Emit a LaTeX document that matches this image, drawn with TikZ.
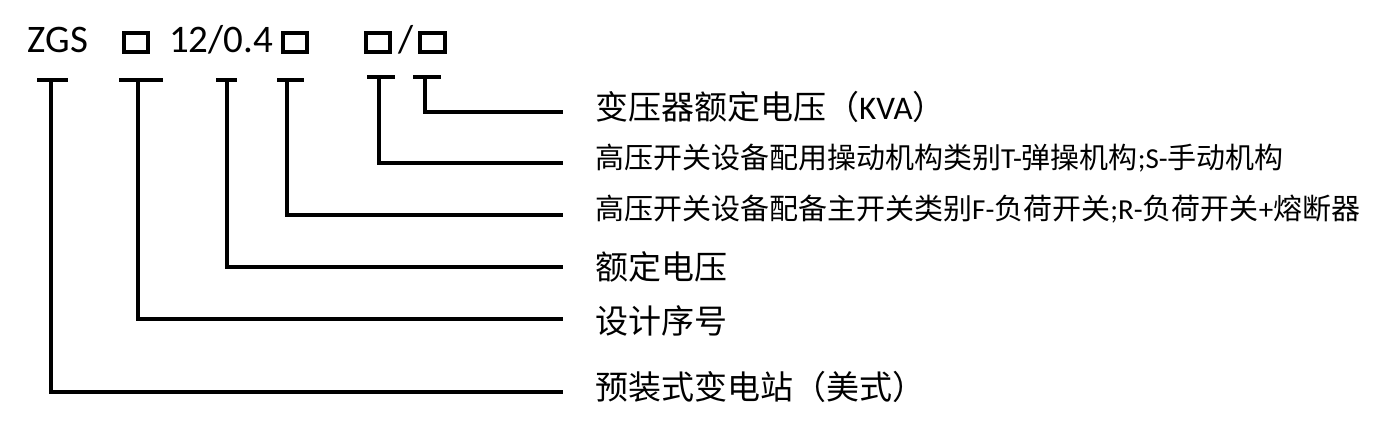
\documentclass[tikz,border=0pt]{standalone}
\usepackage{fontspec}
\setmainfont{Carlito}
\newfontfamily\cjk{Noto Sans CJK SC}
\usetikzlibrary{calc}
\tikzset{bar/.style={line width=4.5pt}}
\tikzset{slot/.style={draw,line width=3.8pt,minimum width=24.5pt,minimum height=18.5pt,inner sep=0pt}}
\tikzset{lbl/.style={anchor=west,inner sep=0pt,font=\fontsize{33}{36}\selectfont}}
\tikzset{lblsmall/.style={anchor=west,inner sep=0pt,font=\fontsize{29}{32}\selectfont}}

\begin{document}
\begin{tikzpicture}[x=1pt,y=-1pt,font=\fontsize{39}{43}\selectfont] % pixel grid, hardcoded
  \useasboundingbox (0,0) rectangle (1393,425);

  % type code on top
  \node[anchor=base] (zgs) at (58,52.5) {ZGS};
  \node[slot] (s1) at (136,42.5) {};
  \node[anchor=base] (num) at (221,52.5) {12/0.4};
  \node[slot] (s2) at (295,42.5) {};
  \node[slot] (s3) at (378,42.5) {};
  \node[anchor=base] (sl) at (406,52.5) {/};
  \node[slot] (s4) at (432.5,42.5) {};

  % ticks under the code
  \coordinate (t1) at (51,80);
  \coordinate (t2) at (138,80);
  \coordinate (t3) at (227,80);
  \coordinate (t4) at (287,80);
  \coordinate (t5) at (379,77);
  \coordinate (t6) at (425,77);

  \draw[bar] (37,80) -- (68,80);
  \draw[bar] (119,80) -- (163,80);
  \draw[bar] (216,80) -- (237,80);
  \draw[bar] (277,80) -- (304,80);
  \draw[bar] (367,77) -- (395,77);
  \draw[bar] (413,77) -- (441,77);

  % line ends
  \coordinate (e1) at (563,112);
  \coordinate (e2) at (563,163);
  \coordinate (e3) at (563,215);
  \coordinate (e4) at (563,267);
  \coordinate (e5) at (563,319);
  \coordinate (e6) at (563,392);

  \draw[bar] (t6) |- (e1);
  \draw[bar] (t5) |- (e2);
  \draw[bar] (t4) |- (e3);
  \draw[bar] (t3) |- (e4);
  \draw[bar] (t2) |- (e5);
  \draw[bar] (t1) |- (e6);

  % meanings
  \node[lbl] (l1) at (595,107) {{\cjk 变压器额定电压（}KVA{\cjk ）}};
  \node[lblsmall] (l2) at (595,158) {{\cjk 高压开关设备配用操动机构类别}T-{\cjk 弹操机构};S-{\cjk 手动机构}};
  \node[lblsmall] (l3) at (595,209) {{\cjk 高压开关设备配备主开关类别}F-{\cjk 负荷开关};R-{\cjk 负荷开关}+{\cjk 熔断器}};
  \node[lbl] (l4) at (595,267) {\cjk 额定电压};
  \node[lbl] (l5) at (595,321) {\cjk 设计序号};
  \node[lbl] (l6) at (595,387) {\cjk 预装式变电站（美式）};
\end{tikzpicture}
\end{document}
